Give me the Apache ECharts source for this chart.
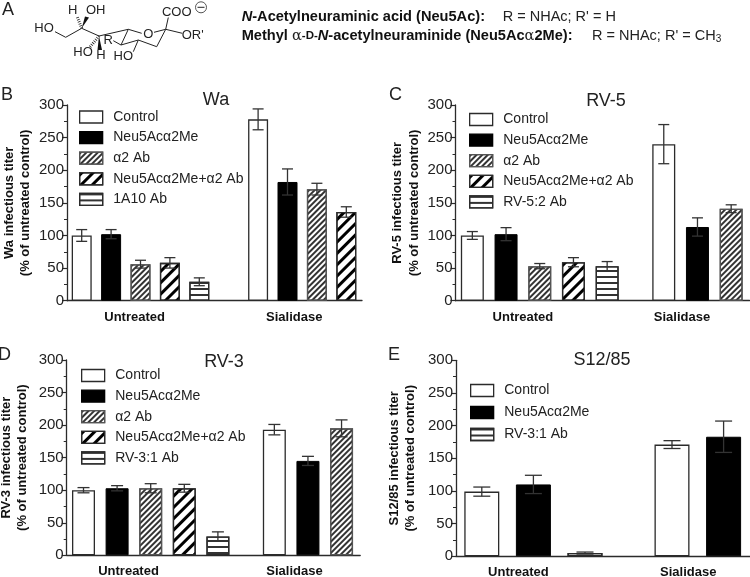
<!DOCTYPE html>
<html><head><meta charset="utf-8">
<style>html,body{margin:0;padding:0;background:#fff}#c{width:750px;height:577px}</style>
<script src="https://cdn.jsdelivr.net/npm/echarts@6/dist/echarts.min.js"></script>
</head><body><div id="c"></div>
<script>
const groupLabels = ['Untreated', 'Sialidase'];
const yTicks = [0, 50, 100, 150, 200, 250, 300];

const waNames = ['Control', 'Neu5Acα2Me', 'α2 Ab', 'Neu5Acα2Me+α2 Ab', '1A10 Ab'];
const waUntreated = [100, 102, 56, 58, 29];
const waUntreatedErr = [9, 7, 6, 8, 6];
const waSialidase = [278, 182, 171, 136];
const waSialidaseErr = [16, 20, 9, 8];

const rv5Names = ['Control', 'Neu5Acα2Me', 'α2 Ab', 'Neu5Acα2Me+α2 Ab', 'RV-5:2 Ab'];
const rv5Untreated = [100, 102, 53, 59, 53];
const rv5UntreatedErr = [6, 10, 4, 7, 7];
const rv5Sialidase = [240, 113, 141];
const rv5SialidaseErr = [30, 14, 6];

const rv3Names = ['Control', 'Neu5Acα2Me', 'α2 Ab', 'Neu5Acα2Me+α2 Ab', 'RV-3:1 Ab'];
const rv3Untreated = [100, 103, 103, 103, 29];
const rv3UntreatedErr = [4, 4, 7, 6, 7];
const rv3Sialidase = [193, 145, 195];
const rv3SialidaseErr = [8, 7, 13];

const s12Names = ['Control', 'Neu5Acα2Me', 'RV-3:1 Ab'];
const s12Untreated = [99, 110, 5];
const s12UntreatedErr = [7, 14, 1.5];
const s12Sialidase = [171, 183];
const s12SialidaseErr = [6, 24];

const FONT = '"Liberation Sans", Arial, sans-serif';
const INK = '#2b2b2b';

const panels = [
  {letter:'B', lx:0, ly:86, title:'Wa', tx:216, ty:100, yName:'Wa infectious titer', names:waNames, u:waUntreated, ue:waUntreatedErr, s:waSialidase, se:waSialidaseErr,
   left:67, top:105, w:295, h:195.7, slot:29.4, gap:1, barW:20, cap:11, labelAt:[2.30,7.73], nameGap:33, legL:79, legT:110, legGap:6.6},
  {letter:'C', lx:388, ly:86, title:'RV-5', tx:606, ty:101.5, yName:'RV-5 infectious titer', names:rv5Names, u:rv5Untreated, ue:rv5UntreatedErr, s:rv5Sialidase, se:rv5SialidaseErr,
   left:455.5, top:105, w:294, h:195.7, slot:33.7, gap:0.68, barW:23, cap:11, labelAt:[2.0,6.72], nameGap:33, legL:469, legT:112.5, legGap:6.6},
  {letter:'D', lx:-3, ly:346, title:'RV-3', tx:224, ty:362.5, yName:'RV-3 infectious titer', names:rv3Names, u:rv3Untreated, ue:rv3UntreatedErr, s:rv3Sialidase, se:rv3SialidaseErr,
   left:66.7, top:360, w:293.5, h:195.3, slot:33.6, gap:0.68, barW:23, cap:12, labelAt:[1.84,6.78], nameGap:36, legL:81, legT:368.5, legGap:6.6},
  {letter:'E', lx:387, ly:346, title:'S12/85', tx:602, ty:360, yName:'S12/85 infectious titer', names:s12Names, u:s12Untreated, ue:s12UntreatedErr, s:s12Sialidase, se:s12SialidaseErr,
   left:456, top:360.3, w:294, h:196, slot:51.6, gap:0.686, barW:35, cap:17, labelAt:[1.21,4.5], nameGap:37, legL:470, legT:383.5, legGap:8}
];

function styleFor(name){
  const base = {color:'#fff', borderColor:INK, borderWidth:1.3};
  if (name === 'Control') return base;
  if (name === 'Neu5Acα2Me') return {color:'#000', borderColor:'#000', borderWidth:1};
  if (name === 'α2 Ab') return {...base, borderColor:'#555', decal:{symbol:'rect', symbolSize:1, color:'#333', dashArrayX:[1,0], dashArrayY:[1.2,2], rotation:-Math.PI/4}};
  if (name === 'Neu5Acα2Me+α2 Ab') return {...base, decal:{symbol:'rect', symbolSize:1, color:'#000', dashArrayX:[1,0], dashArrayY:[2.8,4.2], rotation:-Math.PI/4}};
  return {...base, decal:{symbol:'rect', symbolSize:1, color:'#333', dashArrayX:[1,0], dashArrayY:[1.5,3.5], rotation:0}};
}

const grid=[], xAxis=[], yAxis=[], series=[], legend=[], title=[];
panels.forEach((p,i)=>{
  grid.push({left:p.left, top:p.top, width:p.w, height:p.h, outerBoundsMode:'none', containLabel:false});
  xAxis.push({type:'value', gridIndex:i, min:0, max:p.w/p.slot, splitLine:{show:false}, axisTick:{show:false},
    axisLine:{show:true, onZero:false, lineStyle:{color:INK, width:1.3}},
    axisLabel:{show:true, customValues:p.labelAt, margin:10, fontFamily:FONT, fontWeight:'bold', fontSize:13, color:'#111',
      hideOverlap:false, showMinLabel:true, showMaxLabel:true,
      formatter:(v)=> groupLabels[Math.abs(v-p.labelAt[0])<1e-6?0:1]}});
  yAxis.push({type:'value', gridIndex:i, min:0, max:300, interval:50, name:p.yName+'\n(% of untreated control)', nameLocation:'middle', nameGap:p.nameGap,
    nameRotate:90, nameTextStyle:{fontFamily:FONT, fontWeight:'bold', fontSize:13, lineHeight:16.5, color:'#111'},
    splitLine:{show:false}, minorSplitLine:{show:false},
    axisLine:{show:true, onZero:false, lineStyle:{color:INK, width:1.3}},
    axisTick:{show:true, length:5, lineStyle:{color:INK, width:1.2}},
    minorTick:{show:true, splitNumber:2, length:3, lineStyle:{color:INK, width:1}},
    axisLabel:{margin:3, fontFamily:FONT, fontSize:15, color:'#222', customValues:yTicks}});
  const points=[];
  p.u.forEach((v,k)=>points.push({name:p.names[k], x:k+0.5, v, e:p.ue[k]}));
  p.s.forEach((v,k)=>points.push({name:p.names[k], x:p.u.length+p.gap+k+0.5, v, e:p.se[k]}));
  p.names.forEach(n=>{
    series.push({type:'bar', name:n, xAxisIndex:i, yAxisIndex:i, barWidth:p.barW, barGap:'-100%', itemStyle:styleFor(n), animation:false, silent:true,
      data:points.filter(q=>q.name===n).map(q=>[q.x,q.v])});
  });
  series.push({type:'custom', name:'error '+p.letter, xAxisIndex:i, yAxisIndex:i, animation:false, silent:true, z:5, clip:false,
    data:points.map(q=>[q.x,q.v-q.e,q.v+q.e]),
    encode:{x:0,y:[1,2]},
    renderItem:(params,api)=>{
      const x=api.value(0), lo=api.coord([x,api.value(1)]), hi=api.coord([x,api.value(2)]), c=p.cap/2;
      const st={stroke:'#333', lineWidth:1.3, fill:null};
      return {type:'group', children:[
        {type:'line', shape:{x1:lo[0],y1:lo[1],x2:hi[0],y2:hi[1]}, style:st},
        {type:'line', shape:{x1:hi[0]-c,y1:hi[1],x2:hi[0]+c,y2:hi[1]}, style:st},
        {type:'line', shape:{x1:lo[0]-c,y1:lo[1],x2:lo[0]+c,y2:lo[1]}, style:st}
      ]};
    }});
  legend.push({data:p.names, orient:'vertical', left:p.legL, top:p.legT, padding:0, icon:'rect', itemWidth:23, itemHeight:12, itemGap:p.legGap, selectedMode:false,
    formatter:n=>'\u2009\u2009'+n+'', textStyle:{fontFamily:FONT, fontSize:14, color:'#222'}, itemStyle:{borderWidth:1.3}});
  title.push({text:p.title, left:p.tx, top:p.ty-10, textAlign:'center', padding:0, textStyle:{fontFamily:FONT, fontWeight:'normal', fontSize:18, color:'#222', lineHeight:20}});
  title.push({text:p.letter, left:p.lx+1, top:p.ly, padding:0, textStyle:{fontFamily:FONT, fontWeight:'normal', fontSize:18, color:'#222'}});
});
title.push({text:'A', left:2, top:1, padding:0, textStyle:{fontFamily:FONT, fontWeight:'normal', fontSize:18, color:'#222'}});

const lab=(x,y,t,extra)=>({type:'text', x, y, silent:true, style:{text:t, x:0, y:0, align:'center', verticalAlign:'middle', font:'13px '+FONT, fill:'#222', ...extra}});
const bond=(x1,y1,x2,y2)=>({type:'line', silent:true, shape:{x1,y1,x2,y2}, style:{stroke:'#222', lineWidth:1}});
const wedge=(pts)=>({type:'polygon', silent:true, shape:{points:pts}, style:{fill:'#111'}});
const hash=(x1,y1,x2,y2)=>({type:'line', silent:true, shape:{x1,y1,x2,y2}, style:{stroke:'#222', lineWidth:3, lineDash:[0.8,1.4]}});
const rich={b:{font:'bold 14.6px '+FONT, fill:'#111'}, bi:{font:'italic bold 14.6px '+FONT, fill:'#111'}, s:{font:'14.6px "DejaVu Serif", serif', fill:'#222'}, sc:{font:'bold 11.5px '+FONT, fill:'#111'}, r:{font:'14.5px '+FONT, fill:'#222'}, sub:{font:'10px '+FONT, fill:'#222', verticalAlign:'bottom', padding:[6,0,0,0]}};
const molecule=[
  bond(55,31.7,65.7,37.3), bond(65.7,37.3,81.7,28.3), bond(81.7,28.3,99,36),
  wedge([[81.7,28.3],[85,16.5],[89,17.5]]), hash(81.7,28.3,77.3,17),
  wedge([[99,36],[97.5,50],[102,50]]), hash(99,36,90,47),
  bond(99,36,128.3,29.3), bond(128.3,29.3,141.7,33.3), bond(154,32.3,165.7,29.3), bond(165.7,29.3,156.7,46.7),
  bond(156.7,46.7,138.3,40), bond(138.3,40,121,45), bond(121,45,128.3,29.3), bond(121,45,113.3,40.7),
  bond(138.3,40,133.3,51.7), bond(165.7,29.3,168.3,17.5), bond(165.7,29.3,182.3,33.3),
  lab(44,28.7,'HO'), lab(72.7,10.7,'H'), lab(95.7,10.7,'OH'), lab(83,52.3,'HO'), lab(101,55.7,'H'), lab(108.3,40.7,'R'),
  lab(148.3,34,'O'), lab(123.3,56.7,'HO'), lab(176.7,12.7,'COO'), lab(192.7,35.3,"OR'"),
  {type:'circle', silent:true, shape:{cx:201,cy:7.3,r:5.5}, style:{fill:'#fff', stroke:'#555', lineWidth:1}},
  bond(197.5,7.3,204.5,7.3)
];
const header=[
  {type:'text', x:241.7, y:16.7, silent:true, style:{text:'{bi|N}{b|-Acetylneuraminic acid (Neu5Ac):}', rich, verticalAlign:'middle'}},
  {type:'text', x:502.7, y:16.7, silent:true, style:{text:"{r|R = NHAc; R' = H}", rich, verticalAlign:'middle'}},
  {type:'text', x:241.7, y:36, silent:true, style:{text:'{b|Methyl }{s|α}{sc|-D-}{bi|N}{b|-acetylneuraminide (Neu5Ac}{s|α}{b|2Me):}', rich, verticalAlign:'middle'}},
  {type:'text', x:592, y:36, silent:true, style:{text:"{r|R = NHAc; R' = CH}{sub|3}", rich, verticalAlign:'middle'}}
];

const chart=echarts.init(document.getElementById('c'),null,{renderer:'canvas'});
chart.setOption({animation:false, backgroundColor:'#fff', title, grid, xAxis, yAxis, legend, series, graphic:{elements:[...molecule,...header]}});
</script></body></html>
